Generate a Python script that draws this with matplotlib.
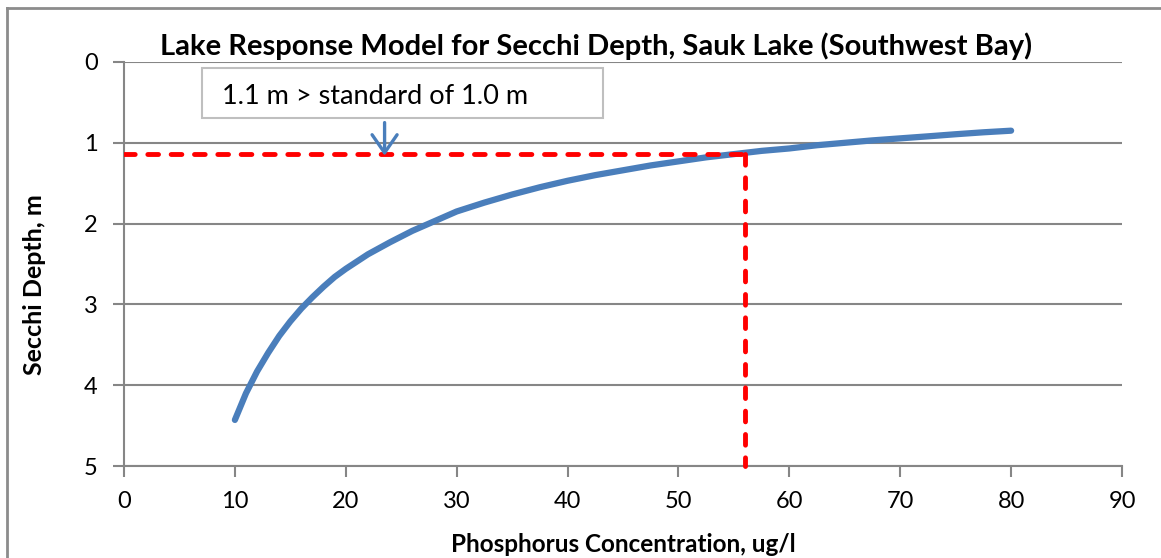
import matplotlib
matplotlib.use("Agg")
import matplotlib.pyplot as plt
from matplotlib.patches import Rectangle
from matplotlib.lines import Line2D

plt.rcParams['font.family'] = ['Lato', 'DejaVu Sans']

# Data
tp = [10, 11, 12, 13, 14, 15, 16, 17, 18, 19, 20, 22, 24, 26, 28, 30, 32.5, 35,
      37.5, 40, 42.5, 45, 47.5, 50, 52.5, 55, 57.5, 60, 62.5, 65, 67.5, 70, 72.5,
      75, 77.5, 80]
secchi = [4.43, 4.10, 3.83, 3.60, 3.39, 3.21, 3.05, 2.91, 2.78, 2.66, 2.56, 2.38,
          2.23, 2.09, 1.97, 1.85, 1.74, 1.64, 1.55, 1.47, 1.40, 1.34, 1.28, 1.23,
          1.18, 1.14, 1.10, 1.07, 1.03, 1.00, 0.97, 0.945, 0.92, 0.894, 0.87, 0.85]
target_tp = 56.0
target_sd = 1.14
arrow_x = 23.5
xticks = [0, 10, 20, 30, 40, 50, 60, 70, 80, 90]
yticks = [0, 1, 2, 3, 4, 5]

W, H = 1161, 558
fig = plt.figure(figsize=(W / 100, H / 100), dpi=100)

def fx(px):
    return px / W

def fy(py):
    return 1 - py / H

# outer frame (left and top edges visible)
fig.add_artist(Line2D([fx(7), fx(7)], [0, fy(8)], transform=fig.transFigure,
                      color='#8c8c8c', linewidth=2))
fig.add_artist(Line2D([fx(7), 1.0], [fy(8), fy(8)], transform=fig.transFigure,
                      color='#8c8c8c', linewidth=2))

ax = fig.add_axes([fx(124), fy(466), (1122 - 124) / W, (466 - 62) / H])
grid_c = '#868686'
ax.plot(tp, secchi, color='#4a7ebb', linewidth=4.5, solid_capstyle='round',
        solid_joinstyle='round', zorder=3)
ax.plot([0, target_tp], [target_sd, target_sd], color='#ff0000', linewidth=3.5,
        dashes=(2.2, 2.6), dash_capstyle='round', zorder=4)
ax.plot([target_tp, target_tp], [target_sd, 5], color='#ff0000', linewidth=3.5,
        dashes=(2.2, 2.6), dash_capstyle='round', zorder=4, clip_on=False)

ax.set_xlim(0, 90)
ax.set_ylim(5, 0)
ax.set_xticks(xticks)
ax.set_yticks(yticks)
ax.tick_params(axis='both', colors=grid_c, length=8, width=1.5, labelcolor='black',
               labelsize=17)
ax.tick_params(axis='y', pad=11)
ax.tick_params(axis='x', pad=10)
for s in ['top', 'right']:
    ax.spines[s].set_visible(False)
for s in ['left', 'bottom']:
    ax.spines[s].set_color(grid_c)
    ax.spines[s].set_linewidth(1.5)
ax.yaxis.grid(True, color=grid_c, linewidth=1.5)
ax.set_axisbelow(True)

fig.text(fx(623), fy(552), 'Phosphorus Concentration, ug/l', ha='center', va='baseline',
         fontsize=17.5, fontweight='bold')
fig.text(fx(35), fy(285), 'Secchi Depth, m', ha='center', va='center', rotation=90,
         fontsize=18, fontweight='bold')

fig.text(fx(596), fy(55), 'Lake Response Model for Secchi Depth, Sauk Lake (Southwest Bay)',
         ha='center', va='baseline', fontsize=21, fontweight='bold')

# annotation box
fig.patches.append(Rectangle((fx(202), fy(118)), (603 - 202) / W, 50 / H,
                             transform=fig.transFigure, facecolor='white',
                             edgecolor='#bfbfbf', linewidth=1.5))
fig.text(fx(222), fy(104), '1.1 m > standard of 1.0 m', ha='left', va='baseline',
         fontsize=19.5)
ax.annotate('', xy=(arrow_x, target_sd + 0.02), xytext=(arrow_x, 0.75),
            arrowprops=dict(arrowstyle='->,head_length=1.3,head_width=0.9',
                            color='#4a7ebb', linewidth=2.4, shrinkA=0, shrinkB=0),
            zorder=5)

fig.savefig('out.png', dpi=100)
